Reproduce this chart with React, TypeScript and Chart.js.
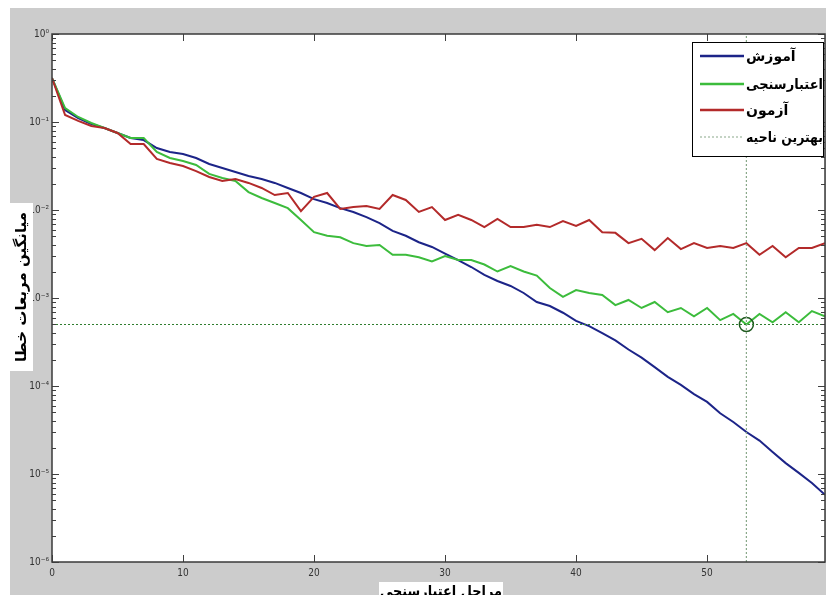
import React, { useEffect, useRef } from "react";
import { Chart, registerables } from "chart.js";

Chart.register(...registerables);

const W = 826;
const H = 595;

// epochs (validation checks)
const epochs = [
  0, 1, 2, 3, 4, 5, 6, 7, 8, 9, 10, 11, 12, 13, 14, 15, 16, 17, 18, 19,
  20, 21, 22, 23, 24, 25, 26, 27, 28, 29, 30, 31, 32, 33, 34, 35, 36, 37, 38, 39,
  40, 41, 42, 43, 44, 45, 46, 47, 48, 49, 50, 51, 52, 53, 54, 55, 56, 57, 58, 59,
];

// آموزش (training MSE)
const trainMSE = [
  0.316, 0.137, 0.111, 0.095, 0.0855, 0.075, 0.0658, 0.0624, 0.0506, 0.0456,
  0.0433, 0.039, 0.0333, 0.03, 0.027, 0.0243, 0.0225, 0.0203, 0.0178, 0.0156,
  0.0133, 0.012, 0.0105, 0.0095, 0.0083, 0.0071, 0.0058, 0.0051, 0.0043, 0.0038,
  0.0032, 0.0027, 0.00225, 0.00183, 0.00156, 0.00137, 0.00114, 0.0009, 0.00081, 0.00068,
  0.00055, 0.00048, 0.0004, 0.00033, 0.00026, 0.00021, 0.000164, 0.000127, 0.000103, 0.000081,
  0.000066, 0.000049, 0.000039, 0.00003, 0.000024, 0.0000178, 0.0000133, 0.0000103, 0.0000079, 0.0000058,
];

// اعتبارسنجی (validation MSE)
const validationMSE = [
  0.316, 0.144, 0.114, 0.0974, 0.0855, 0.075, 0.0658, 0.0658, 0.0456, 0.039,
  0.036, 0.0325, 0.0257, 0.0231, 0.0214, 0.016, 0.0137, 0.012, 0.0105, 0.0077,
  0.0056, 0.0051, 0.0049, 0.0042, 0.0039, 0.004, 0.0031, 0.0031, 0.0029, 0.0026,
  0.003, 0.0027, 0.0027, 0.0024, 0.002, 0.0023, 0.002, 0.0018, 0.0013, 0.00103,
  0.00123, 0.00114, 0.00108, 0.00083, 0.00095, 0.00077, 0.0009, 0.00069, 0.00077, 0.00062,
  0.00077, 0.00056, 0.00066, 0.0005, 0.00066, 0.00053, 0.00069, 0.00053, 0.00071, 0.00062,
];

// آزمون (test MSE)
const testMSE = [
  0.316, 0.12, 0.103, 0.09, 0.0855, 0.075, 0.0562, 0.0562, 0.038, 0.0342,
  0.0316, 0.0277, 0.0237, 0.0214, 0.0225, 0.0203, 0.0178, 0.0148, 0.0156, 0.0097,
  0.0141, 0.0156, 0.0103, 0.0108, 0.0111, 0.0103, 0.0148, 0.013, 0.0095, 0.0108,
  0.0077, 0.0088, 0.0077, 0.0064, 0.0079, 0.0064, 0.0064, 0.0068, 0.0064, 0.0075,
  0.0066, 0.0077, 0.0056, 0.0055, 0.0042, 0.0047, 0.0035, 0.0048, 0.0036, 0.0042,
  0.0037, 0.0039, 0.0037, 0.0042, 0.0031, 0.0039, 0.0029, 0.0037, 0.0037, 0.0042,
];

const bestEpoch = [53];
const bestValue = [0.0005];

const xTickValues = [0, 10, 20, 30, 40, 50];
const yTickValues = [1e-6, 1e-5, 1e-4, 1e-3, 1e-2, 1e-1, 1];
const xRange = [0, 59];

const legendLabels = ["آموزش", "اعتبارسنجی", "آزمون", "بهترین ناحیه"];
const xTitle = "مراحل اعتبارسنجی";
const yTitle = "میانگین مربعات خطا";

const COLORS = {
  train: "#1c2488",
  validation: "#3cbc3c",
  test: "#b32a2a",
  bestH: "#2f7d2f",
  bestV: "#8aa88a",
  circle: "#1f5a1f",
};

const SUP: Record<string, string> = {
  "-": "\u207B", "0": "\u2070", "1": "\u00B9", "2": "\u00B2", "3": "\u00B3",
  "4": "\u2074", "5": "\u2075", "6": "\u2076", "7": "\u2077", "8": "\u2078", "9": "\u2079",
};
const sup = (n: number) => String(n).split("").map((c) => SUP[c] || c).join("");

const TICK_FONT = "'DejaVu Sans Condensed', 'DejaVu Sans', sans-serif";
const AR_FONT = "'DejaVu Sans', sans-serif";

const matlabPlugin = {
  id: "matlabFrame",
  beforeDraw(chart: any) {
    const { ctx, chartArea: a } = chart;
    ctx.save();
    ctx.fillStyle = "#ffffff";
    ctx.fillRect(0, 0, W, H);
    ctx.fillStyle = "#cccccc";
    ctx.fillRect(10, 8, W - 10, H - 8);
    ctx.fillStyle = "#ffffff";
    ctx.fillRect(a.left, a.top, a.right - a.left, a.bottom - a.top);
    ctx.restore();
  },
  afterDatasetsDraw(chart: any) {
    const { ctx, chartArea: a, scales } = chart;
    const xs = scales.x;
    const ys = scales.y;
    ctx.save();
    const line = (x1: number, y1: number, x2: number, y2: number) => {
      ctx.beginPath();
      ctx.moveTo(x1, y1);
      ctx.lineTo(x2, y2);
      ctx.stroke();
    };
    // inward MATLAB-style ticks on all four sides
    ctx.strokeStyle = "#404040";
    ctx.lineWidth = 1;
    for (const v of xTickValues) {
      const px = Math.round(xs.getPixelForValue(v)) + 0.5;
      line(px, a.bottom, px, a.bottom - 7);
      line(px, a.top, px, a.top + 7);
    }
    for (let i = 0; i < yTickValues.length; i++) {
      const base = yTickValues[i];
      const py = Math.round(ys.getPixelForValue(base)) + 0.5;
      line(a.left, py, a.left + 7, py);
      line(a.right, py, a.right - 7, py);
      if (i < yTickValues.length - 1) {
        for (let m = 2; m <= 9; m++) {
          const qy = Math.round(ys.getPixelForValue(base * m)) + 0.5;
          line(a.left, qy, a.left + 4, qy);
          line(a.right, qy, a.right - 4, qy);
        }
      }
    }
    // axes box
    ctx.strokeStyle = "#3a3a3a";
    ctx.lineWidth = 1.5;
    ctx.strokeRect(a.left, a.top, a.right - a.left, a.bottom - a.top);

    // legend
    const lx = 692, ly = 42, lw = 131, lh = 114;
    ctx.fillStyle = "#ffffff";
    ctx.fillRect(lx, ly, lw, lh);
    ctx.strokeStyle = "#000000";
    ctx.lineWidth = 1;
    ctx.strokeRect(lx + 0.5, ly + 0.5, lw, lh);
    const rows = [56, 84, 110, 137];
    const styles = [
      { c: COLORS.train, w: 2.5, d: [] as number[] },
      { c: COLORS.validation, w: 2.5, d: [] as number[] },
      { c: COLORS.test, w: 2.5, d: [] as number[] },
      { c: COLORS.bestV, w: 1, d: [2, 2] },
    ];
    for (let i = 0; i < rows.length; i++) {
      ctx.strokeStyle = styles[i].c;
      ctx.lineWidth = styles[i].w;
      ctx.setLineDash(styles[i].d);
      line(700, rows[i], 744, rows[i]);
      ctx.setLineDash([]);
      ctx.fillStyle = "#000000";
      ctx.font = `bold 14px ${AR_FONT}`;
      ctx.textAlign = "left";
      ctx.textBaseline = "middle";
      ctx.fillText(legendLabels[i], 746, rows[i] + 1, 77);
    }
    ctx.restore();
  },
  afterDraw(chart: any) {
    const { ctx } = chart;
    ctx.save();
    // y-axis title in a white box
    ctx.fillStyle = "#ffffff";
    ctx.fillRect(10, 203, 23, 168);
    ctx.translate(22, 287);
    ctx.rotate(-Math.PI / 2);
    ctx.fillStyle = "#000000";
    ctx.font = `bold 15px ${AR_FONT}`;
    ctx.textAlign = "center";
    ctx.textBaseline = "middle";
    ctx.fillText(yTitle, 0, 0, 164);
    ctx.restore();
    ctx.save();
    // x-axis title in a white box (cut at the bottom edge)
    ctx.fillStyle = "#ffffff";
    ctx.fillRect(379, 582, 124, 13);
    ctx.fillStyle = "#000000";
    ctx.font = `bold 15px ${AR_FONT}`;
    ctx.textAlign = "center";
    ctx.textBaseline = "middle";
    ctx.fillText(xTitle, 441, 592, 122);
    ctx.restore();
  },
};

export default function App() {
  const ref = useRef<HTMLCanvasElement | null>(null);
  useEffect(() => {
    if (!ref.current) return;
    const pts = (arr: number[]) => epochs.map((e, i) => ({ x: e, y: arr[i] }));
    const chart = new Chart(ref.current, {
      type: "line",
      data: {
        datasets: [
          { label: legendLabels[0], data: pts(trainMSE), borderColor: COLORS.train, borderWidth: 2, pointRadius: 0, order: 3 },
          { label: legendLabels[1], data: pts(validationMSE), borderColor: COLORS.validation, borderWidth: 2, pointRadius: 0, order: 2 },
          { label: legendLabels[2], data: pts(testMSE), borderColor: COLORS.test, borderWidth: 2, pointRadius: 0, order: 1 },
          {
            label: legendLabels[3],
            data: [{ x: xRange[0], y: bestValue[0] }, { x: xRange[1], y: bestValue[0] }],
            borderColor: COLORS.bestH, borderWidth: 1, borderDash: [2, 2], pointRadius: 0, order: 0,
          },
          {
            label: "best-v",
            data: [{ x: bestEpoch[0], y: yTickValues[0] }, { x: bestEpoch[0], y: yTickValues[yTickValues.length - 1] }],
            borderColor: COLORS.bestV, borderWidth: 1.2, borderDash: [2, 2], pointRadius: 0, order: 0,
          },
          {
            label: "best-point",
            data: [{ x: bestEpoch[0], y: bestValue[0] }],
            showLine: false, pointRadius: 7, pointStyle: "circle",
            pointBackgroundColor: "rgba(0,0,0,0)", pointBorderColor: COLORS.circle, pointBorderWidth: 1.5,
            borderColor: COLORS.circle, order: 0,
          },
        ],
      },
      options: {
        animation: false,
        responsive: false,
        devicePixelRatio: 1,
        layout: { autoPadding: false, padding: { top: 34, right: 1, bottom: 0, left: 0 } },
        plugins: { legend: { display: false }, tooltip: { enabled: false }, title: { display: false } },
        elements: { line: { tension: 0 } },
        scales: {
          x: {
            type: "linear",
            min: xRange[0],
            max: xRange[1],
            grid: { display: false, drawTicks: false },
            border: { display: false },
            ticks: {
              autoSkip: false, maxRotation: 0, padding: 5, color: "#333333",
              font: { family: TICK_FONT, size: 10 },
              callback: (v: any) => String(v),
            },
            afterBuildTicks: (s: any) => { s.ticks = xTickValues.map((v) => ({ value: v })); },
            afterFit: (s: any) => { s.height = 33; s.paddingLeft = 0; s.paddingRight = 0; },
          },
          y: {
            type: "logarithmic",
            min: yTickValues[0],
            max: yTickValues[yTickValues.length - 1],
            grid: { display: false, drawTicks: false },
            border: { display: false },
            ticks: {
              autoSkip: false, padding: 3, color: "#333333",
              font: { family: TICK_FONT, size: 10 },
              callback: (v: any) => "10" + sup(Math.round(Math.log10(Number(v)))),
            },
            afterBuildTicks: (s: any) => { s.ticks = yTickValues.map((v) => ({ value: v, major: true })); },
            afterFit: (s: any) => { s.width = 52; s.paddingTop = 0; s.paddingBottom = 0; },
          },
        },
      },
      plugins: [matlabPlugin],
    } as any);
    return () => chart.destroy();
  }, []);
  return (
    <div style={{ position: "fixed", left: 0, top: 0, width: W, height: H, background: "#fff" }}>
      <canvas ref={ref} width={W} height={H} style={{ display: "block", width: W, height: H }} />
    </div>
  );
}
